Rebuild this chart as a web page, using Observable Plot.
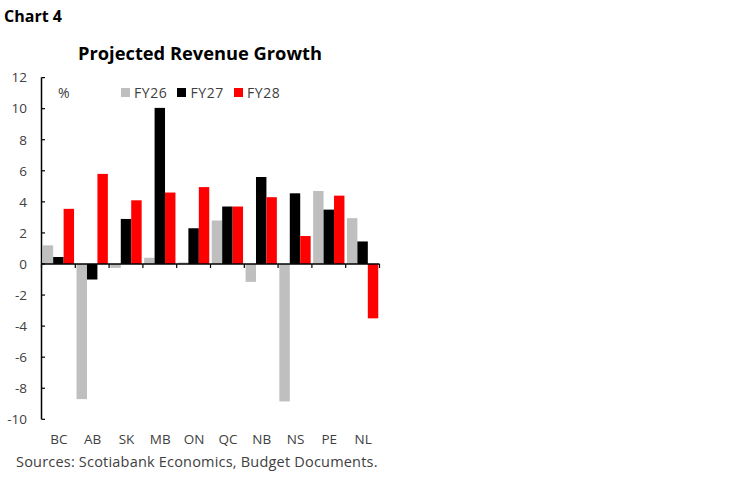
<!DOCTYPE html>
<html><head><meta charset="utf-8">
<script src="https://cdn.jsdelivr.net/npm/d3@7"></script>
<script src="https://cdn.jsdelivr.net/npm/@observablehq/plot@0.6"></script>
<style>
body{margin:0;background:#fff;font-family:"Open Sans",sans-serif;}
#wrap{position:relative;width:749px;height:482px;overflow:hidden;}
#chart{position:absolute;left:0;top:0;}
#chartno{position:absolute;left:4px;top:5px;font-weight:bold;font-size:16px;color:#000;}
#title{position:absolute;left:78px;top:40px;font-weight:bold;font-size:18.3px;color:#000;white-space:nowrap;}
#pct{position:absolute;left:58px;top:83px;font-size:14px;color:#404040;}
#legend{position:absolute;left:121px;top:83px;display:flex;align-items:center;font-size:14px;letter-spacing:0.6px;color:#404040;}
#legend .item{display:flex;align-items:center;margin-right:10px;}
#legend .sw{width:9px;height:9px;margin-right:4px;}
#source{position:absolute;left:16px;top:452px;font-size:14.5px;letter-spacing:0.2px;color:#404040;white-space:nowrap;}
</style></head><body>
<div id="wrap">
<div id="chart"></div>
<div id="chartno">Chart 4</div>
<div id="title">Projected Revenue Growth</div>
<div id="pct">%</div>
<div id="legend"></div>
<div id="source">Sources: Scotiabank Economics, Budget Documents.</div>
</div>
<script>
const provinces = ["BC","AB","SK","MB","ON","QC","NB","NS","PE","NL"];
const seriesNames = ["FY26","FY27","FY28"];
const fy26 = [1.2, -8.7, -0.25, 0.4, 0.1, 2.8, -1.15, -8.85, 4.7, 2.95];
const fy27 = [0.45, -1.0, 2.9, 10.05, 2.3, 3.7, 5.6, 4.55, 3.5, 1.45];
const fy28 = [3.55, 5.8, 4.1, 4.6, 4.95, 3.7, 4.3, 1.8, 4.4, -3.5];
const seriesColors = ["#bfbfbf", "#000000", "#ff0000"];
const yTicks = [-10, -8, -6, -4, -2, 0, 2, 4, 6, 8, 10, 12];

const seriesValues = [fy26, fy27, fy28];
const data = provinces.flatMap((p, i) => seriesNames.map((s, j) => ({prov: p, series: s, value: seriesValues[j][i]})));

const W = 749, H = 482;
const plot = Plot.plot({
  width: W, height: H,
  marginLeft: 41.5, marginRight: W - 379.5, marginTop: 77.6, marginBottom: 62.7,
  style: {fontFamily: '"Open Sans", sans-serif', fontSize: "13.5px", color: "#404040", background: "transparent"},
  fx: {domain: provinces, padding: 0, round: false, label: null, axis: null},
  x: {domain: seriesNames, paddingInner: 0, paddingOuter: 0.12, round: false, axis: null},
  y: {domain: [-10, 12], axis: null},
  color: {domain: seriesNames, range: seriesColors},
  marks: [
    Plot.barY(data, {fx: "prov", x: "series", y: "value", fill: "series"}),
    Plot.axisY({ticks: yTicks, tickSize: 0, tickPadding: 15, tickFormat: d => String(d), label: null, fill: "#404040"}),
    Plot.axisFx({anchor: "bottom", tickSize: 0, tickPadding: 15, label: null, fill: "#404040"})
  ]
});
document.getElementById("chart").appendChild(plot);

// axis lines and tick marks placed through the plot's own scales
const svg = d3.select(plot);
const fx = plot.scale("fx"), y = plot.scale("y");
const y0 = y.apply(0);
const left = fx.apply(provinces[0]);
const right = fx.apply(provinces[provinces.length - 1]) + fx.bandwidth;
const g = svg.append("g").attr("stroke", "#000");
g.append("line").attr("x1", left).attr("x2", right).attr("y1", y0).attr("y2", y0).attr("stroke-width", 1.5);
g.append("line").attr("x1", left).attr("x2", left).attr("y1", y.apply(12)).attr("y2", y.apply(-10)).attr("stroke-width", 1.5);
yTicks.forEach(t => g.append("line").attr("x1", left).attr("x2", left + 3.5).attr("y1", y.apply(t)).attr("y2", y.apply(t)).attr("stroke-width", 1.2));
provinces.forEach(p => g.append("line").attr("x1", fx.apply(p)).attr("x2", fx.apply(p)).attr("y1", y0).attr("y2", y0 + 4).attr("stroke-width", 1.2));
g.append("line").attr("x1", right).attr("x2", right).attr("y1", y0).attr("y2", y0 + 4).attr("stroke-width", 1.2);

// legend
const legend = d3.select("#legend");
seriesNames.forEach((s, i) => {
  const it = legend.append("div").attr("class", "item");
  it.append("div").attr("class", "sw").style("background", seriesColors[i]);
  it.append("span").text(s);
});
</script>
</body></html>
